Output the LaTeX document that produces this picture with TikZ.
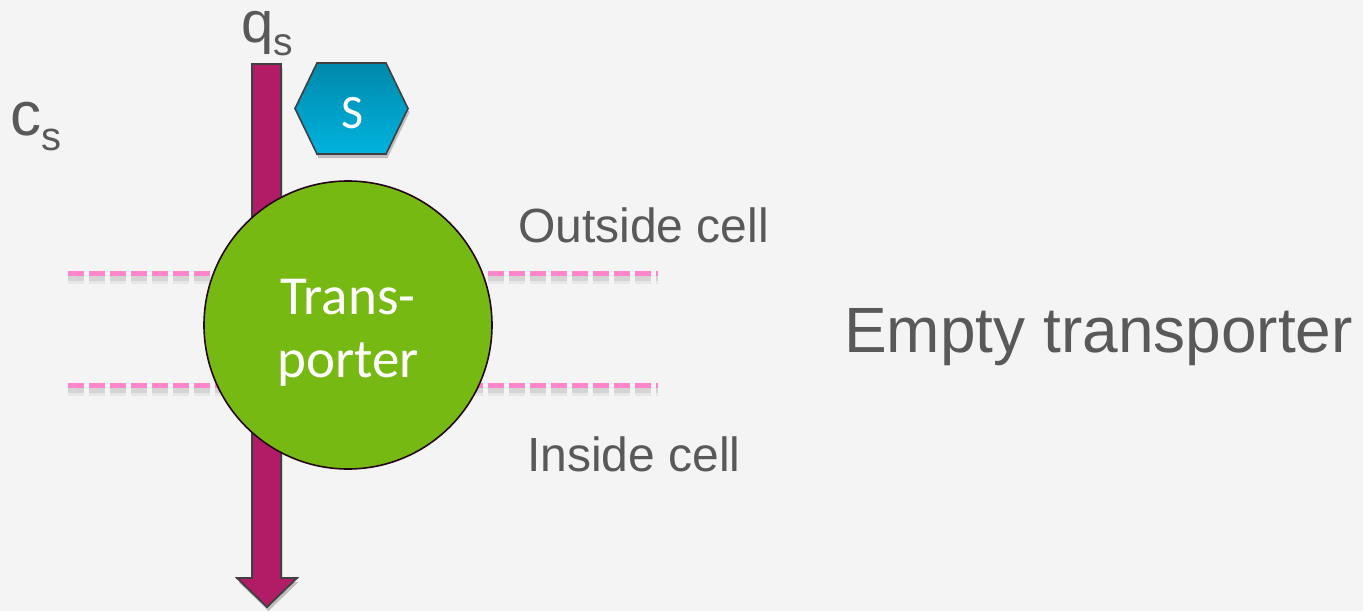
\documentclass[tikz,border=0pt]{standalone}
\usepackage{fontspec}
\setmainfont{Liberation Sans}
\newfontfamily\calibri{Carlito}
\usetikzlibrary{shadows}
\definecolor{bg}{HTML}{F4F4F4}
\definecolor{txt}{HTML}{595959}
\definecolor{magentaarrow}{HTML}{B21C67}
\definecolor{greencirc}{HTML}{77B913}
\definecolor{pinkline}{HTML}{FF86CA}
\definecolor{hextop}{HTML}{0088AB}
\definecolor{hexbot}{HTML}{00B3DE}
\definecolor{outline}{HTML}{404040}
\tikzset{
  membrane/.style={pinkline, line width=5.5pt, dash pattern=on 16pt off 5pt},
  membraneshadow/.style={black, line width=#1, dash pattern=on 16pt off 5pt},
  graylabel/.style={txt, inner sep=0pt, anchor=base west},
  myshadow/.style={drop shadow={shadow xshift=1.5pt, shadow yshift=-4pt, opacity=0.22, fill=black}}
}
\begin{document}
\begin{tikzpicture}[x=1pt,y=-1pt]
\useasboundingbox (0,0) rectangle (1363,611);
\fill[bg] (0,0) rectangle (1363,611);
% membranes
\coordinate (m1a) at (68,273.5); \coordinate (m1b) at (658,273.5);
\coordinate (m2a) at (68,385.5); \coordinate (m2b) at (658,385.5);
\foreach \a/\b in {m1a/m1b, m2a/m2b}{
  \draw[membraneshadow=8pt, opacity=0.05] ([yshift=-6pt]\a) -- ([yshift=-6pt]\b);
  \draw[membraneshadow=5pt, opacity=0.08] ([yshift=-5pt]\a) -- ([yshift=-5pt]\b);
}
\draw[membrane] (m1a) -- (m1b);
\draw[membrane] (m2a) -- (m2b);
% flux arrow
\path[draw=outline, line width=1.8pt, line join=miter, fill=magentaarrow, myshadow]
  (252,64) -- (281,64) -- (281,578) -- (297,578) -- (267,607) -- (237,578) -- (252,578) -- cycle;
% transporter
\node[circle, minimum size=288pt, inner sep=0pt, fill=greencirc, draw=black!80!magentaarrow, line width=1.6pt] (tr) at (348,325) {};
\node[white, align=center, font=\calibri\fontsize{55}{63}\selectfont, inner sep=0pt] (trtext) at (348,333) {Trans-\\porter};
% substrate hexagon
\path[draw=outline, line width=1.6pt, top color=hextop, bottom color=hexbot, myshadow]
  (295,108.5) -- (317,63) -- (386,63) -- (408,108.5) -- (386,154) -- (317,154) -- cycle;
\node[white, font=\calibri\fontsize{48}{48}\selectfont, inner sep=0pt] (S) at (352.5,113) {S};
% labels
\node[graylabel, font=\fontsize{58}{58}\selectfont, text height=30pt] (qs) at (241,42) {q\raisebox{-13pt}{\fontsize{39}{39}\selectfont s}};
\node[graylabel, font=\fontsize{62}{62}\selectfont] (cs) at (10,135) {c\raisebox{-15pt}{\fontsize{40}{40}\selectfont s}};
\node[graylabel, font=\fontsize{48}{48}\selectfont] (out) at (518,242) {Outside cell};
\node[graylabel, font=\fontsize{48}{48}\selectfont] (in) at (527,471) {Inside cell};
\node[graylabel, font=\fontsize{64}{64}\selectfont] (title) at (844,352) {Empty transporter};
\end{tikzpicture}
\end{document}
